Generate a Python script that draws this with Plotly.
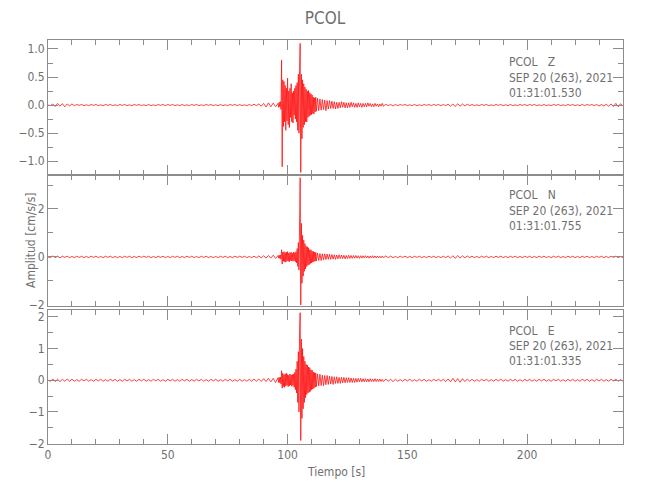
import numpy as np
import plotly.graph_objects as go
from plotly.subplots import make_subplots

# ---------------- data ----------------
station = "PCOL"
components = ["Z", "N", "E"]
date_label = "SEP 20 (263), 2021"
start_times = ["01:31:01.530", "01:31:01.755", "01:31:01.335"]

# sampling segments: (start time [s], sample step [s])
segments = [(0.0, 1.0), (96.0, 0.25), (112.5, 0.5), (141.0, 1.0)]

z_a = [0.00, -0.01, 0.02, -0.025, 0.03, -0.02, 0.025, -0.03, 0.02, -0.015,
       0.02, -0.01, 0.01, -0.005, 0.01, -0.01, 0.005, -0.01, 0.01, -0.005,
       0.01, -0.01, 0.005, -0.01, 0.01, -0.005, 0.01, -0.01, 0.005, -0.01,
       0.01, -0.005, 0.01, -0.01, 0.005, -0.01, 0.01, -0.005, 0.01, -0.01,
       0.005, -0.01, 0.01, -0.01, 0.005, -0.01, 0.01, -0.005, 0.01, -0.01,
       0.01, -0.005, 0.01, -0.01, 0.005, -0.01, 0.01, -0.01, 0.005, -0.01,
       0.01, -0.005, 0.01, -0.01, 0.005, -0.01, 0.01, -0.005, 0.01, -0.01,
       0.005, -0.01, 0.01, -0.01, 0.005, -0.01, 0.01, -0.005, 0.01, -0.01,
       0.01, -0.01, 0.005, -0.01, 0.01, -0.01, 0.015, -0.01, 0.02, -0.02,
       0.03, -0.035, 0.04, -0.03, 0.035, -0.03]
z_b = [0.03, -0.04, 0.05, -0.03, 0.06, -0.08, 0.80, -1.10,
       0.45, -0.38, 0.42, -0.30, 0.35, -0.45, 0.30, -0.28,
       0.48, -0.35, 0.25, -0.40, 0.30, -0.22, 0.38, -0.30,
       0.22, -0.32, 0.25, -0.18, 0.30, -0.25, 0.35, -0.30,
       0.40, -0.45, 0.55, -0.50, 0.62, 1.10, -1.20, 0.55,
       -0.60, 0.45, -0.40, 0.38, -0.35, 0.32, -0.30, 0.28,
       -0.30, 0.25, -0.22, 0.26, -0.20, 0.22, -0.18, 0.20,
       -0.17, 0.18, -0.15, 0.14, -0.16, 0.13, -0.12, 0.14, -0.11]
z_c = [0.12, -0.10, 0.11, -0.09, 0.10, -0.08, 0.09, -0.10, 0.08, -0.07,
       0.08, -0.06, 0.07, -0.06, 0.06, -0.07, 0.05, -0.06, 0.05, -0.05,
       0.06, -0.04, 0.05, -0.05, 0.04, -0.05, 0.04, -0.04, 0.05, -0.03,
       0.04, -0.04, 0.03, -0.04, 0.04, -0.03, 0.03, -0.04, 0.03, -0.03,
       0.03, -0.03, 0.04, -0.02, 0.03, -0.03, 0.02, -0.03, 0.03, -0.02,
       0.02, -0.03, 0.02, -0.02, 0.03, -0.02]
z_d = [0.015, -0.01, 0.01, -0.015, 0.01, -0.01, 0.01, -0.005, 0.01, -0.01,
       0.005, -0.01, 0.01, -0.01, 0.005, -0.01, 0.01, -0.005, 0.01, -0.01,
       0.01, -0.005, 0.01, -0.01, 0.01, -0.01, 0.015, -0.02, 0.02, -0.025,
       0.025, -0.02, 0.02, -0.015, 0.015, -0.01, 0.01, -0.01, 0.005, -0.01,
       0.01, -0.005, 0.01, -0.01, 0.005, -0.01, 0.01, -0.005, 0.01, -0.01,
       0.005, -0.01, 0.01, -0.01, 0.005, -0.01, 0.01, -0.005, 0.01, -0.01,
       0.01, -0.005, 0.01, -0.01, 0.005, -0.01, 0.01, -0.01, 0.005, -0.01,
       0.01, -0.005, 0.01, -0.01, 0.005, -0.01, 0.01, -0.005, 0.01, -0.01,
       0.005, -0.01, 0.01, -0.01, 0.01, -0.005, 0.01, -0.01, 0.01, -0.015,
       0.01, -0.015, 0.015, -0.02, 0.02, -0.025, 0.03, -0.03, 0.025, -0.02]

n_a = [0.00, -0.03, 0.04, -0.03, 0.03, -0.04, 0.03, -0.02, 0.03, -0.03,
       0.02, -0.03, 0.03, -0.02, 0.03, -0.03, 0.02, -0.03, 0.03, -0.02,
       0.03, -0.03, 0.02, -0.03, 0.03, -0.02, 0.03, -0.03, 0.02, -0.03,
       0.02, -0.03, 0.03, -0.02, 0.03, -0.03, 0.02, -0.03, 0.03, -0.02,
       0.03, -0.02, 0.03, -0.03, 0.02, -0.03, 0.03, -0.02, 0.03, -0.03,
       0.02, -0.03, 0.03, -0.02, 0.03, -0.03, 0.02, -0.03, 0.03, -0.02,
       0.03, -0.03, 0.02, -0.03, 0.03, -0.02, 0.03, -0.03, 0.02, -0.03,
       0.02, -0.03, 0.03, -0.02, 0.03, -0.03, 0.02, -0.03, 0.03, -0.02,
       0.03, -0.02, 0.03, -0.03, 0.02, -0.03, 0.03, -0.03, 0.04, -0.04,
       0.05, -0.05, 0.06, -0.05, 0.07, -0.06]
n_b = [0.06, -0.05, 0.07, -0.06, 0.08, -0.10, 0.30, -0.30,
       0.20, -0.18, 0.22, -0.20, 0.18, -0.22, 0.20, -0.17,
       0.22, -0.18, 0.16, -0.20, 0.18, -0.15, 0.20, -0.17,
       0.15, -0.18, 0.20, -0.15, 0.18, -0.20, 0.22, -0.25,
       0.35, -0.40, 0.60, -0.55, 1.20, 3.30, -2.00, 1.40,
       -1.10, 0.90, -0.80, 0.70, -0.60, 0.55, -0.50, 0.45,
       -0.40, 0.42, -0.35, 0.38, -0.32, 0.30, -0.28, 0.30,
       -0.25, 0.24, -0.22, 0.23, -0.20, 0.20, -0.18, 0.19, -0.17]
n_c = [0.16, -0.15, 0.14, -0.15, 0.13, -0.12, 0.13, -0.11, 0.12, -0.10,
       0.11, -0.10, 0.10, -0.09, 0.09, -0.10, 0.08, -0.08, 0.09, -0.07,
       0.08, -0.07, 0.07, -0.08, 0.06, -0.07, 0.07, -0.06, 0.06, -0.06,
       0.06, -0.05, 0.06, -0.05, 0.05, -0.06, 0.05, -0.05, 0.05, -0.04,
       0.05, -0.04, 0.04, -0.05, 0.04, -0.04, 0.05, -0.04, 0.04, -0.04,
       0.04, -0.04, 0.03, -0.04, 0.04, -0.03]
n_d = [0.04, -0.03, 0.03, -0.03, 0.02, -0.03, 0.03, -0.02, 0.03, -0.03,
       0.02, -0.03, 0.03, -0.02, 0.03, -0.03, 0.02, -0.03, 0.03, -0.02,
       0.03, -0.03, 0.02, -0.03, 0.03, -0.03, 0.04, -0.05, 0.05, -0.06,
       0.06, -0.05, 0.05, -0.04, 0.04, -0.03, 0.03, -0.03, 0.02, -0.03,
       0.03, -0.02, 0.03, -0.03, 0.02, -0.03, 0.03, -0.02, 0.03, -0.03,
       0.02, -0.03, 0.03, -0.02, 0.03, -0.03, 0.02, -0.03, 0.03, -0.02,
       0.03, -0.03, 0.02, -0.03, 0.03, -0.02, 0.03, -0.03, 0.02, -0.03,
       0.03, -0.02, 0.03, -0.03, 0.02, -0.03, 0.03, -0.02, 0.03, -0.03,
       0.02, -0.03, 0.03, -0.02, 0.03, -0.03, 0.02, -0.03, 0.03, -0.02,
       0.03, -0.03, 0.02, -0.03, 0.03, -0.02, 0.03, -0.03, 0.02, -0.03]

e_a = [0.00, -0.03, 0.04, -0.04, 0.03, -0.04, 0.03, -0.03, 0.04, -0.03,
       0.03, -0.03, 0.02, -0.03, 0.03, -0.02, 0.03, -0.03, 0.02, -0.03,
       0.03, -0.02, 0.03, -0.03, 0.02, -0.03, 0.03, -0.02, 0.03, -0.03,
       0.02, -0.03, 0.03, -0.02, 0.03, -0.03, 0.02, -0.03, 0.03, -0.02,
       0.03, -0.03, 0.02, -0.03, 0.03, -0.02, 0.03, -0.03, 0.02, -0.03,
       0.03, -0.02, 0.03, -0.03, 0.02, -0.03, 0.03, -0.02, 0.03, -0.03,
       0.02, -0.03, 0.03, -0.02, 0.03, -0.03, 0.02, -0.03, 0.03, -0.02,
       0.03, -0.03, 0.02, -0.03, 0.03, -0.02, 0.03, -0.03, 0.02, -0.03,
       0.03, -0.03, 0.02, -0.03, 0.03, -0.03, 0.04, -0.03, 0.04, -0.04,
       0.05, -0.04, 0.06, -0.05, 0.06, -0.07]
e_b = [0.08, -0.07, 0.09, -0.08, 0.10, -0.12, 0.30, -0.25,
       0.22, -0.20, 0.18, -0.22, 0.20, -0.18, 0.22, -0.16,
       0.18, -0.20, 0.16, -0.18, 0.20, -0.15, 0.17, -0.19,
       0.18, -0.16, 0.20, -0.22, 0.25, -0.30, 0.35, -0.40,
       0.60, -0.70, 0.90, -1.00, 1.50, 2.13, -1.90, 1.30,
       -1.20, 1.00, -0.90, 0.75, -0.70, 0.60, -0.55, 0.50,
       -0.45, 0.48, -0.40, 0.42, -0.38, 0.40, -0.35, 0.33,
       -0.30, 0.32, -0.28, 0.26, -0.25, 0.24, -0.22, 0.23, -0.20]
e_c = [0.20, -0.18, 0.19, -0.17, 0.16, -0.17, 0.15, -0.14, 0.15, -0.13,
       0.13, -0.12, 0.12, -0.13, 0.11, -0.10, 0.11, -0.10, 0.09, -0.10,
       0.09, -0.08, 0.09, -0.08, 0.08, -0.07, 0.08, -0.07, 0.07, -0.07,
       0.06, -0.07, 0.06, -0.06, 0.06, -0.05, 0.06, -0.05, 0.05, -0.05,
       0.05, -0.05, 0.04, -0.05, 0.05, -0.04, 0.04, -0.04, 0.05, -0.04,
       0.04, -0.04, 0.04, -0.04, 0.03, -0.04]
e_d = [0.04, -0.03, 0.03, -0.04, 0.03, -0.03, 0.02, -0.03, 0.03, -0.02,
       0.03, -0.03, 0.02, -0.03, 0.03, -0.02, 0.03, -0.03, 0.02, -0.03,
       0.03, -0.02, 0.03, -0.03, 0.03, -0.04, 0.04, -0.05, 0.06, -0.05,
       0.05, -0.06, 0.05, -0.04, 0.04, -0.03, 0.03, -0.03, 0.02, -0.03,
       0.03, -0.02, 0.03, -0.03, 0.02, -0.03, 0.03, -0.02, 0.03, -0.03,
       0.02, -0.03, 0.03, -0.02, 0.03, -0.03, 0.02, -0.03, 0.03, -0.02,
       0.03, -0.03, 0.02, -0.03, 0.03, -0.02, 0.03, -0.03, 0.02, -0.03,
       0.03, -0.02, 0.03, -0.03, 0.02, -0.03, 0.03, -0.02, 0.03, -0.03,
       0.02, -0.03, 0.03, -0.02, 0.03, -0.03, 0.02, -0.03, 0.03, -0.02,
       0.03, -0.03, 0.02, -0.03, 0.03, -0.02, 0.03, -0.03, 0.02, -0.03]

traces = {"Z": [z_a, z_b, z_c, z_d],
          "N": [n_a, n_b, n_c, n_d],
          "E": [e_a, e_b, e_c, e_d]}

y_ranges = [[-1.245, 1.16], [-2.04, 3.42], [-2.01, 2.22]]
y_dticks = [0.5, 2, 1]
y_minor = [0.25, 1, 0.5]
y_formats = [".1f", "d", "d"]
x_range = [0, 240]


def assemble(parts):
    t, a = [], []
    for (t0, dt), vals in zip(segments, parts):
        t.extend(t0 + dt * np.arange(len(vals)))
        a.extend(vals)
    return np.array(t), np.array(a)


# ---------------- figure ----------------
GREY = "#8c8c8c"
TXT = "#707070"
FONT = "DejaVu Sans Condensed, DejaVu Sans, sans-serif"

fig = make_subplots(rows=3, cols=1, shared_xaxes=True)
domains = [[0.666, 1.0], [0.342, 0.666], [0.0, 0.332]]

for i, comp in enumerate(components):
    t, a = assemble(traces[comp])
    fig.add_trace(go.Scatter(x=t, y=a, mode="lines",
                             line=dict(color="#ff1010", width=0.8),
                             showlegend=False, hoverinfo="skip"),
                  row=i + 1, col=1)

axis_common = dict(showline=True, linecolor=GREY, linewidth=1, mirror="ticks",
                   ticks="inside", tickcolor=GREY, showgrid=False, zeroline=False,
                   automargin=False,
                   tickfont=dict(family=FONT, size=12, color=TXT))

for i in range(3):
    xa = "xaxis" if i == 0 else f"xaxis{i + 1}"
    ya = "yaxis" if i == 0 else f"yaxis{i + 1}"
    fig.layout[xa].update(range=x_range, dtick=50, tick0=0, ticklen=10,
                          minor=dict(ticks="inside", dtick=10, ticklen=5, tickcolor=GREY),
                          showticklabels=(i == 2), **axis_common)
    fig.layout[ya].update(domain=domains[i], range=y_ranges[i], dtick=y_dticks[i],
                          tick0=0, ticklen=10, tickformat=y_formats[i],
                          minor=dict(ticks="inside", dtick=y_minor[i], ticklen=5, tickcolor=GREY),
                          **axis_common)

# station / time annotations per panel
ann_y = [[0.837, 0.722, 0.607], [0.847, 0.725, 0.611], [0.843, 0.731, 0.619]]
for i, comp in enumerate(components):
    yref = "y domain" if i == 0 else f"y{i + 1} domain"
    xref = "x domain" if i == 0 else f"x{i + 1} domain"
    lines = [f"{station}\u00a0\u00a0\u00a0{comp}", date_label, start_times[i]]
    for ln, yy in zip(lines, ann_y[i]):
        fig.add_annotation(text=ln, xref=xref, yref=yref, x=0.798, y=yy,
                           xanchor="left", yanchor="middle", showarrow=False,
                           font=dict(family=FONT, size=12, color=TXT))

# axis titles
fig.add_annotation(text="Amplitud [cm/s/s]", xref="paper", yref="paper",
                   x=-0.0296, y=0.505, textangle=-90, showarrow=False,
                   xanchor="center", yanchor="middle",
                   font=dict(family=FONT, size=12, color=TXT))
fig.add_annotation(text="Tiempo [s]", xref="paper", yref="paper",
                   x=0.5, y=-0.069, showarrow=False,
                   xanchor="center", yanchor="middle",
                   font=dict(family=FONT, size=12, color=TXT))

fig.update_layout(
    width=650, height=500,
    margin=dict(l=48, r=27, t=40, b=56),
    paper_bgcolor="white", plot_bgcolor="white",
    title=dict(text=station, x=0.5, xanchor="center", y=0.964, yanchor="middle",
               font=dict(family=FONT, size=17, color=TXT)),
)

fig.write_html("out.html", config={"displayModeBar": False},
               post_script="document.body.style.margin='0';")
